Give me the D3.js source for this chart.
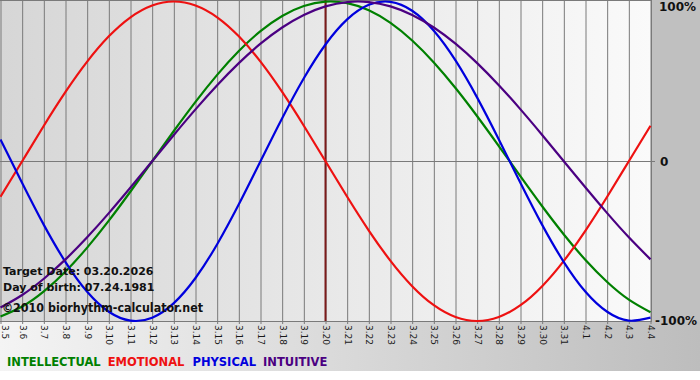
<!DOCTYPE html>
<html><head><meta charset="utf-8">
<script src="https://cdn.jsdelivr.net/npm/d3@7"></script>
<style>html,body{margin:0;padding:0;background:#fff;}svg{display:block;}</style>
</head><body>
<svg id="c" width="700" height="380"></svg>
<script>
const dates = ["3.5","3.6","3.7","3.8","3.9","3.10","3.11","3.12","3.13","3.14","3.15","3.16","3.17","3.18","3.19","3.20","3.21","3.22","3.23","3.24","3.25","3.26","3.27","3.28","3.29","3.30","3.31","4.1","4.2","4.3","4.4"];
const intellectual = [-0.9718,-0.9096,-0.8146,-0.6901,-0.5406,-0.3717,-0.1893,0,0.1893,0.3717,0.5406,0.6901,0.8146,0.9096,0.9718,0.9989,0.9898,0.9450,0.8660,0.7557,0.6182,0.4582,0.2817,0.0951,-0.0951,-0.2817,-0.4582,-0.6182,-0.7557,-0.8660,-0.9450];
const emotional = [-0.2225,0,0.2225,0.4339,0.6235,0.7818,0.9010,0.9749,1,0.9749,0.9010,0.7818,0.6235,0.4339,0.2225,0,-0.2225,-0.4339,-0.6235,-0.7818,-0.9010,-0.9749,-1,-0.9749,-0.9010,-0.7818,-0.6235,-0.4339,-0.2225,0,0.2225];
const physical = [0.1362,-0.1362,-0.3984,-0.6310,-0.8170,-0.9423,-0.9977,-0.9791,-0.8879,-0.7308,-0.5196,-0.2698,0,0.2698,0.5196,0.7308,0.8879,0.9791,0.9977,0.9423,0.8170,0.6310,0.3984,0.1362,-0.1362,-0.3984,-0.6310,-0.8170,-0.9423,-0.9977,-0.9791];
const intuitive = [-0.9158,-0.8372,-0.7357,-0.6142,-0.4759,-0.3247,-0.1646,0,0.1646,0.3247,0.4759,0.6142,0.7357,0.8372,0.9158,0.9694,0.9966,0.9966,0.9694,0.9158,0.8372,0.7357,0.6142,0.4759,0.3247,0.1646,0,-0.1646,-0.3247,-0.4759,-0.6142];
const yTicks = [1, 0, -1];
const yTickLabels = ["100%", "0", "-100%"];
const targetDate = "3.20";
const infoLines = ["Target Date: 03.20.2026", "Day of birth: 07.24.1981"];
const copyright = "\u00A92010 biorhythm-calculator.net";
const seriesNames = ["INTELLECTUAL", "EMOTIONAL", "PHYSICAL", "INTUITIVE"];

const series = [
  {name: seriesNames[0], values: intellectual, color: "#008000"},
  {name: seriesNames[1], values: emotional, color: "#ee1111"},
  {name: seriesNames[2], values: physical, color: "#0000dd"},
  {name: seriesNames[3], values: intuitive, color: "#4b0082"}
];

const svg = d3.select("#c");
const W = 700, H = 380;
const plotL = 0, plotR = 651, plotT = 0, plotB = 321;

const defs = svg.append("defs");
const bgGrad = defs.append("linearGradient").attr("id","bg").attr("x1","0").attr("x2","1").attr("y1","0").attr("y2","0");
bgGrad.append("stop").attr("offset","0").attr("stop-color","#f4f4f4");
bgGrad.append("stop").attr("offset","1").attr("stop-color","#bdbdbd");
const plotGrad = defs.append("linearGradient").attr("id","pg").attr("x1","0").attr("x2","1").attr("y1","0").attr("y2","0");
plotGrad.append("stop").attr("offset","0").attr("stop-color","#d6d6d6");
plotGrad.append("stop").attr("offset","1").attr("stop-color","#fafafa");

svg.append("rect").attr("x",0).attr("y",0).attr("width",W).attr("height",371).attr("fill","url(#bg)");
svg.append("rect").attr("x",plotR).attr("y",0).attr("width",W-plotR).attr("height",plotB+1).attr("fill","#c0c0c0");
svg.append("rect").attr("x",plotL).attr("y",plotT).attr("width",plotR-plotL).attr("height",plotB-plotT).attr("fill","url(#pg)");

const x = d3.scaleLinear().domain([0, dates.length-1]).range([0.5, 650.5]);
const y = d3.scaleLinear().domain([-1, 1]).range([plotB, 1.5]);

// vertical grid + ticks
const xAxis = d3.axisBottom(x).tickValues(d3.range(dates.length)).tickFormat(i => dates[i]).tickSize(plotB + 3).tickSizeOuter(0);
const gx = svg.append("g").attr("transform", "translate(0,0)").call(xAxis);
gx.select(".domain").remove();
gx.selectAll(".tick line").attr("stroke", "#7a7a7a").attr("stroke-width", 1);
gx.selectAll(".tick text")
  .attr("font-family", "Verdana, 'DejaVu Sans', sans-serif")
  .attr("font-size", 9)
  .attr("fill", "#1a1a1a")
  .attr("text-anchor", "start")
  .attr("transform", (d) => "translate(" + (d === 0 ? 4 : 0) + "," + (plotB + 4) + ") rotate(90)")
  .attr("x", 0).attr("y", 0).attr("dy", "0.35em");

// top border & bottom border & right border
svg.append("line").attr("x1",0).attr("x2",plotR).attr("y1",0.5).attr("y2",0.5).attr("stroke","#7a7a7a");
svg.append("line").attr("x1",0).attr("x2",plotR).attr("y1",plotB+0.5).attr("y2",plotB+0.5).attr("stroke","#7a7a7a");
svg.append("line").attr("x1",plotR+0.5).attr("x2",plotR+0.5).attr("y1",0).attr("y2",plotB+1).attr("stroke","#7a7a7a");

// y labels
const yAxis = d3.axisRight(y).tickValues(yTicks).tickFormat((d,i) => yTickLabels[i]).tickSize(0);
const gy = svg.append("g").attr("transform", "translate(" + (plotR + 5) + ",0)").call(yAxis);
gy.select(".domain").remove();
gy.selectAll(".tick text")
  .attr("font-family", "Verdana, 'DejaVu Sans', sans-serif")
  .attr("font-weight", "bold")
  .attr("font-size", 12)
  .attr("fill", "#111")
  .attr("x", (d) => d === 0 ? 4 : (d > 0 ? 3 : -1));
gy.selectAll(".tick").filter(d => d === 1).attr("transform", "translate(0,7)");
svg.append("line").attr("x1",0).attr("x2",plotR+4).attr("y1",Math.round(y(0))+0.5).attr("y2",Math.round(y(0))+0.5).attr("stroke","#7a7a7a");

// target date marker
const ti = dates.indexOf(targetDate);
svg.append("line").attr("x1",x(ti)).attr("x2",x(ti)).attr("y1",0).attr("y2",plotB)
  .attr("stroke","#7b1a1a").attr("stroke-width",2);

// curves
const line = d3.line().x((d,i) => x(i)).y(d => y(d)).curve(d3.curveNatural);
const cg = svg.append("g");
cg.selectAll("path").data(series).join("path")
  .attr("d", d => line(d.values))
  .attr("fill", "none")
  .attr("stroke", d => d.color)
  .attr("stroke-width", 2.2);

// info text
const ff = "Verdana, 'DejaVu Sans', sans-serif";
svg.selectAll("text.info").data(infoLines).join("text").attr("class","info")
  .attr("x", 3).attr("y", (d,i) => 275 + i*16)
  .attr("font-family", ff).attr("font-weight","bold").attr("font-size", 11)
  .attr("fill", "#111").text(d => d);
svg.append("text").attr("x", 2).attr("y", 312)
  .attr("font-family", ff).attr("font-weight","bold").attr("font-size", 12)
  .attr("textLength", 201).attr("lengthAdjust", "spacingAndGlyphs")
  .attr("fill", "#111").text(copyright);

// legend
let lx = 7;
const gaps = [7, 8, 7, 0];
series.forEach((s, i) => {
  const t = svg.append("text").attr("x", lx).attr("y", 366)
    .attr("font-family", ff).attr("font-weight","bold").attr("font-size", 11.5)
    .attr("fill", s.color).text(s.name);
  lx += t.node().getComputedTextLength() + gaps[i];
});
</script>
</body></html>
